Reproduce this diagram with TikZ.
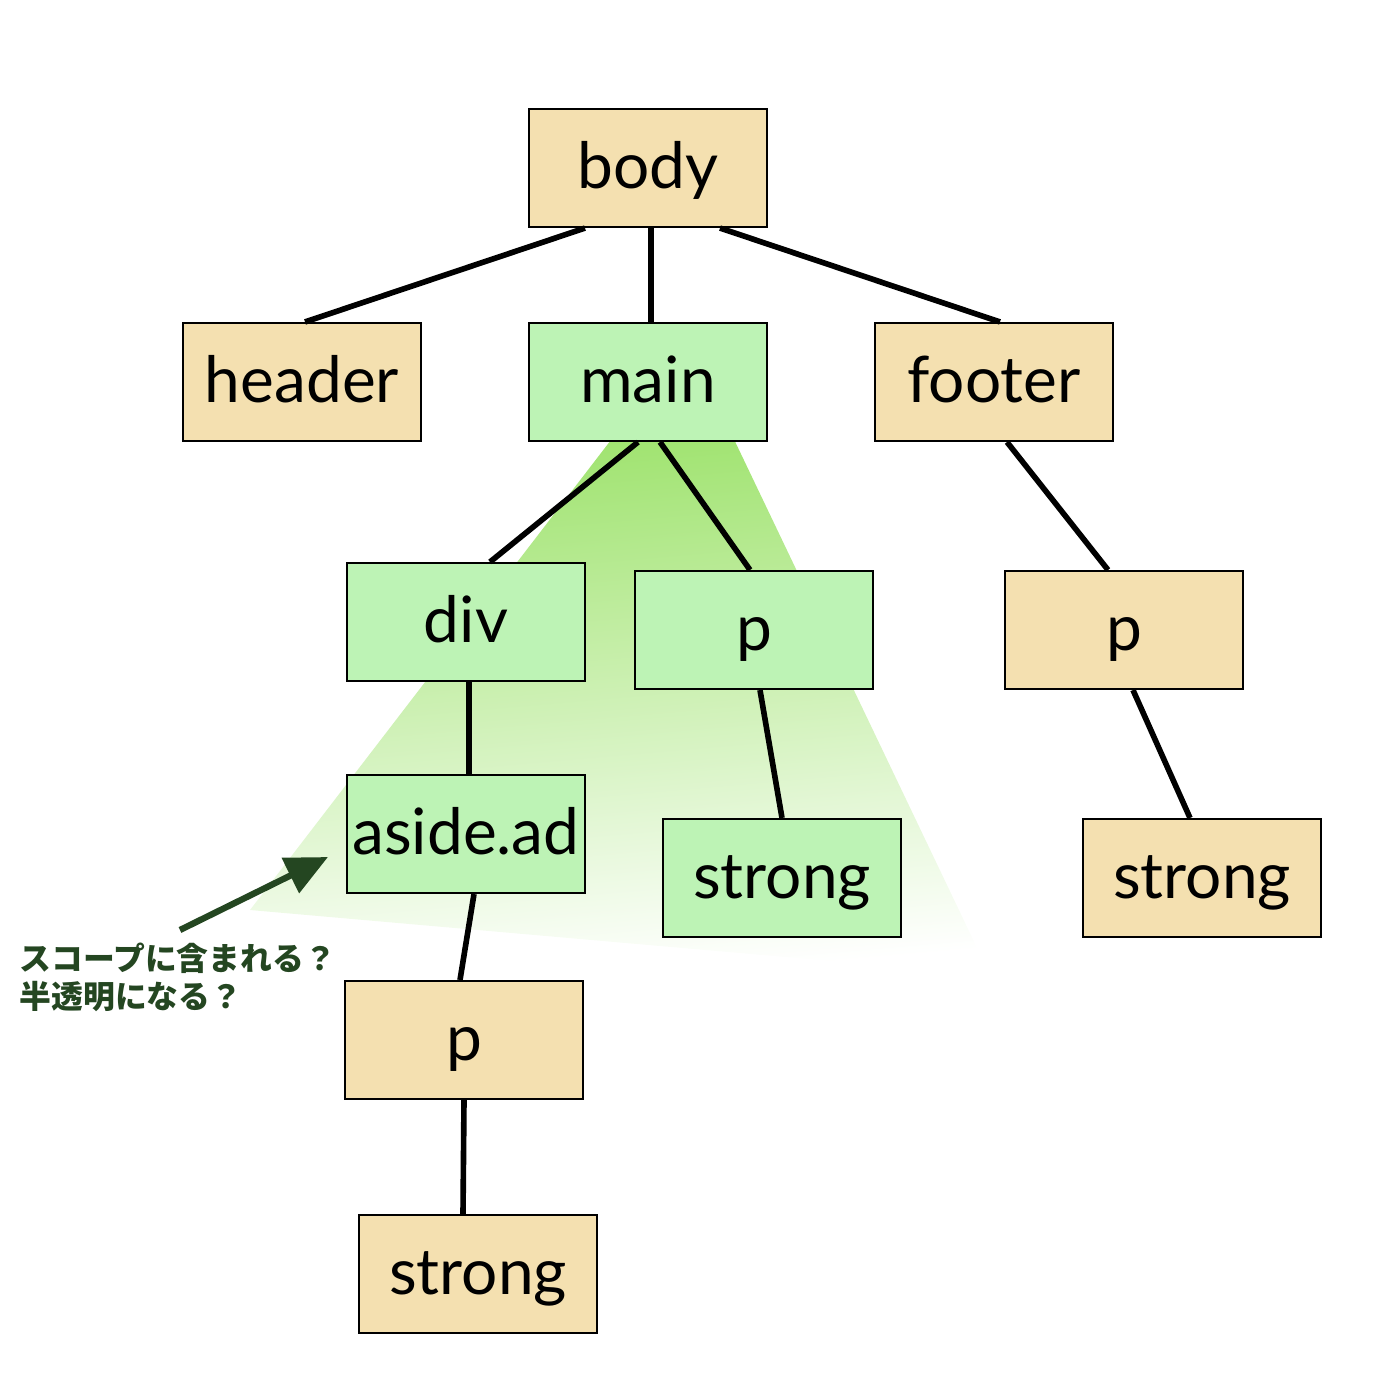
\documentclass[tikz,border=0pt]{standalone}
\usepackage{fontspec}
\setmainfont{Lato}
\newfontfamily\jpfont{Noto Sans CJK JP}
\usetikzlibrary{arrows.meta}
\definecolor{tan}{HTML}{F4E0B0}
\definecolor{leaf}{HTML}{BDF3B5}
\definecolor{scope}{HTML}{8EDE55}
\definecolor{note}{HTML}{244621}
\tikzset{
    elem/.style={rectangle, draw, line width=0.6pt, minimum width=2.38cm,
    	minimum height=1.18cm, inner sep=0pt, text height=0.55cm, text depth=0.15cm,
    	font=\fontsize{18.2}{22}\selectfont},
    plain/.style={elem, fill=tan},
    inscope/.style={elem, fill=leaf},
    every edge/.append style={line width=1.6pt}
}

\begin{document}
\begin{tikzpicture}
  \useasboundingbox (0,0) rectangle (13.78,-13.94);
  % scope of main
  \shade[top color=scope, bottom color=white, shading angle=5]
    (6.87,-3.41) -- (2.50,-9.10) -- (9.90,-9.75) -- cycle;

  \node (body) [plain] at (6.48,-1.68) {body};
  \node (header) [plain] at (3.02,-3.82) {header};
  \node (main) [inscope] at (6.48,-3.82) {main};
  \node (footer) [plain] at (9.94,-3.82) {footer};
  \node (div) [inscope] at (4.66,-6.22) {div};
  \node (mp) [inscope] at (7.54,-6.30) {p};
  \node (fp) [plain] at (11.24,-6.30) {p};
  \node (aside) [inscope] at (4.66,-8.34) {aside.ad};
  \node (mstrong) [inscope] at (7.82,-8.78) {strong};
  \node (fstrong) [plain] at (12.02,-8.78) {strong};
  \node (ap) [plain] at (4.64,-10.40) {p};
  \node (astrong) [plain] at (4.78,-12.74) {strong};

  \node (q) [anchor=north west, align=left, text=note, inner sep=0pt,
    font=\jpfont\bfseries\fontsize{9.05}{11}\selectfont] at (0.19,-9.42)
    {スコープに含まれる？\\半透明になる？};
  \coordinate (tip) at (3.28,-8.57);

  \draw ([xshift=-0.63cm]body.south) edge ([xshift=0.03cm]header.north);
  \draw ([xshift=0.03cm]body.south) edge ([xshift=0.03cm]main.north);
  \draw ([xshift=0.72cm]body.south) edge ([xshift=0.06cm]footer.north);
  \draw ([xshift=-0.10cm]main.south) edge ([xshift=0.24cm]div.north);
  \draw ([xshift=0.12cm]main.south) edge ([xshift=-0.04cm]mp.north);
  \draw ([xshift=0.13cm]footer.south) edge ([xshift=-0.16cm]fp.north);
  \draw ([xshift=0.03cm]div.south) edge ([xshift=0.03cm]aside.north);
  \draw ([xshift=0.06cm]mp.south) edge (mstrong.north);
  \draw ([xshift=0.09cm]fp.south) edge ([xshift=-0.12cm]fstrong.north);
  \draw ([xshift=0.08cm]aside.south) edge ([xshift=-0.04cm]ap.north);
  \draw (ap.south) edge ([xshift=-0.15cm]astrong.north);

  \draw [note, line width=1.8pt, -{Triangle[length=0.42cm, width=0.38cm]}]
    ([xshift=1.61cm, yshift=0.12cm]q.north west) -- (tip);
\end{tikzpicture}
\end{document}
